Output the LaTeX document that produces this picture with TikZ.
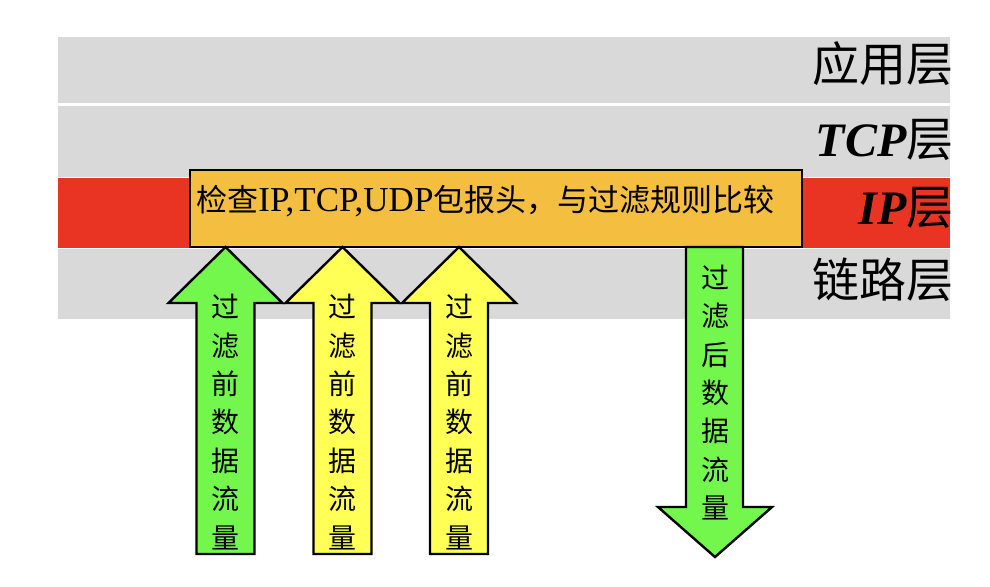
\documentclass[tikz,border=0pt]{standalone}
\usepackage{fontspec}
\setmainfont{Liberation Serif}
\newfontfamily\cjk{Noto Sans CJK SC}
\usepackage{tikz}

\definecolor{layergray}{HTML}{D9D9D9}
\definecolor{ipred}{HTML}{E93323}
\definecolor{boxorange}{HTML}{F4BE40}
\definecolor{flowgreen}{HTML}{74F74D}
\definecolor{flowyellow}{HTML}{FFFF55}

\newcommand{\flowup}[2]{\path[flow,fill=#2] (#1,247) -- (#1+57,303) -- (#1+29,303) -- (#1+29,554) -- (#1-29,554) -- (#1-29,303) -- (#1-57,303) -- cycle;}

\begin{document}
\begin{tikzpicture}[x=0.5pt,y=-0.5pt]
    \tikzstyle{band}=[fill=layergray]
    \tikzstyle{bandred}=[fill=ipred]
    \tikzstyle{layer}=[anchor=east,inner sep=0pt,font=\cjk\fontsize{23.5}{23.5}\selectfont]
    \tikzstyle{checkbox}=[draw=black,line width=1.2pt,fill=boxorange,minimum width=306pt,minimum height=38.5pt,inner sep=0pt]
    \tikzstyle{flow}=[draw=black,line width=1.2pt,line join=miter]
    \tikzstyle{flowtext}=[align=center,inner sep=0pt,font=\cjk\fontsize{14}{19.2}\selectfont]

    \useasboundingbox (0,0) rectangle (990,586);

    % protocol layers
    \path[band] (58,37) rectangle (950,102.5);
    \path[band] (58,106) rectangle (950,177);
    \path[bandred] (58,177.5) rectangle (950,247.5);
    \path[band] (58,248.5) rectangle (950,319);

    \begin{scope}
    \clip (0,0) rectangle (950,586);
    \node[layer] (app) at (954,64) {应用层};
    \node[layer] (tcp) at (954,140) {{\rmfamily\bfseries\itshape\fontsize{24}{24}\selectfont TCP}层};
    \node[layer] (ip) at (954,208) {{\rmfamily\bfseries\itshape\fontsize{24}{24}\selectfont IP}层};
    \node[layer] (link) at (954,280) {链路层};
    \end{scope}

    % filter box
    \node[checkbox] (check) at (496,208.5) {};
    \node[anchor=west,inner sep=0pt,font=\cjk\fontsize{15.5}{16}\selectfont] (checktext) at (196,201)
        {检查{\rmfamily\fontsize{17.5}{16}\selectfont IP,TCP,UDP}包报头，与过滤规则比较};

    % data flows
    \flowup{225.5}{flowgreen}
    \flowup{342.5}{flowyellow}
    \flowup{459}{flowyellow}
    \path[flow,fill=flowgreen] (686,247) -- (743,247) -- (743,507) -- (772,507) -- (715,557) -- (658,507) -- (686,507) -- cycle;

    \node[flowtext] (before1) at (225.5,422) {过\\滤\\前\\数\\据\\流\\量};
    \node[flowtext] (before2) at (342.5,422) {过\\滤\\前\\数\\据\\流\\量};
    \node[flowtext] (before3) at (459,422) {过\\滤\\前\\数\\据\\流\\量};
    \node[flowtext] (after) at (715,392.5) {过\\滤\\后\\数\\据\\流\\量};
\end{tikzpicture}
\end{document}
